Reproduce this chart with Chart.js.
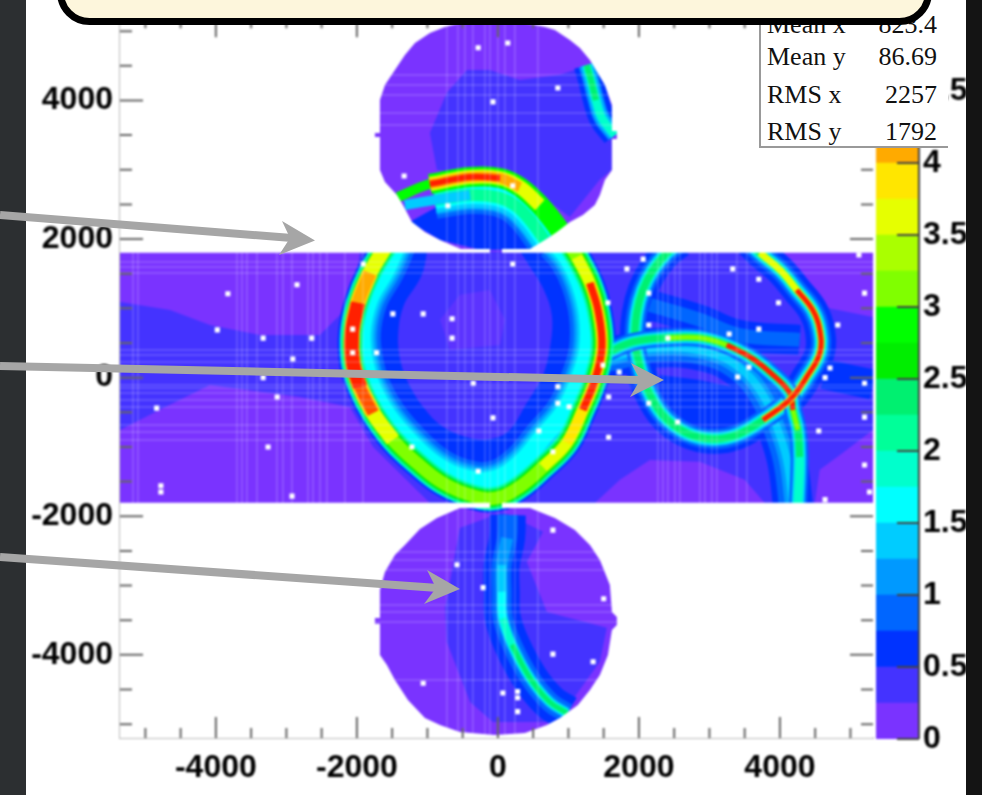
<!DOCTYPE html>
<html><head><meta charset="utf-8">
<script src="https://cdn.jsdelivr.net/npm/chart.js@4/dist/chart.umd.min.js"></script>
<style>
html,body{margin:0;padding:0;background:#fff;width:982px;height:795px;overflow:hidden}
canvas{position:absolute;top:0;filter:blur(.8px)}
#main{left:0}#scale{left:874px}
.strip{position:absolute;top:0;height:795px}
#stats{position:absolute;left:759px;top:-4px;width:187px;height:150px;background:#fff;border-left:2px solid #999;border-bottom:2px solid #999;font:26px "Liberation Serif",serif;color:#111}
#stats div{position:absolute;left:6px;width:170px;line-height:30px;display:flex;justify-content:space-between}
#callout{position:absolute;left:57px;top:-40px;width:861px;height:51px;background:#fdf6dc;border:7px solid #000;border-radius:42px}
svg{position:absolute;left:0;top:0}
</style></head><body>
<canvas id="main" width="982" height="795"></canvas>
<canvas id="scale" width="108" height="795"></canvas>
<div id="stats"></div>
<div id="callout"></div>
<div class="strip" style="left:0;width:26px;background:#2c2f31"></div>
<div class="strip" style="left:966px;width:16px;background:#141414"></div>
<svg width="982" height="795" fill="#a6a6a6" stroke="none">
<g stroke="#a6a6a6" stroke-width="8"><line x1="0" y1="215" x2="292" y2="238"/><line x1="0" y1="366" x2="640" y2="380"/><line x1="0" y1="557" x2="438" y2="588"/></g>
<polygon points="315,240.5 282,221 290,238 279,255"/>
<polygon points="664,380 631,363 640,380 630,397"/>
<polygon points="460,589 427,570 436,588 424,604"/>
</svg>
<script>
// Axis and colour scale
const xRange = [-5360, 5320];
const yRange = [-5200, 5200];
const zRange = [0, 5];
const xTickValues = [-5000,-4500,-4000,-3500,-3000,-2500,-2000,-1500,-1000,-500,0,500,1000,1500,2000,2500,3000,3500,4000,4500,5000];
const yTickValues = [-5000,-4500,-4000,-3500,-3000,-2500,-2000,-1500,-1000,-500,0,500,1000,1500,2000,2500,3000,3500,4000,4500,5000];
const labelledTicks = [-4000,-2000,0,2000,4000];
const zTickValues = [0,0.5,1,1.5,2,2.5,3,3.5,4,4.5,5];
const levelStep = 0.25;
const levelColors = ['#7a33ff','#4433ff','#0033ff','#0066ff','#0099ff','#00ccff','#00ffff','#00ffcc','#00ff99','#00f070','#00ee00','#00ff00','#80ff00','#aaff00','#e6ff00','#ffe600','#ffaa00','#ff8000','#ff5000','#ff2000'];
const statNames = ['Mean x','Mean y','RMS x','RMS y'];
const statValues = ['823.4','86.69','2257','1792'];

// Outline of the populated area: everything in these two shapes is empty
const emptyTop = [[-5360,1804],[-113,1804],[-113,1857],[-525,1857],[-822,1987],[-1035,2102],[-1219,2247],[-1347,2492],[-1432,2636],[-1602,2824],[-1673,2997],[-1673,3473],[-1744,3473],[-1744,3531],[-1673,3531],[-1673,4008],[-1602,4224],[-1461,4440],[-1319,4656],[-1177,4830],[-964,4974],[-752,5061],[-468,5133],[-14,5161],[312,5133],[666,5061],[808,5017],[1021,4873],[1163,4758],[1305,4584],[1517,4224],[1617,3935],[1617,3560],[1687,3560],[1687,3444],[1617,3444],[1617,2997],[1517,2853],[1446,2636],[1375,2492],[1205,2348],[1021,2247],[837,2102],[666,1987],[454,1857],[57,1857],[57,1804],[5320,1804],[5320,5204],[-5360,5204]];
const emptyBottom = [[-5360,-1804],[-113,-1804],[-113,-1880],[-539,-1880],[-865,-2024],[-1106,-2183],[-1319,-2414],[-1461,-2559],[-1602,-2804],[-1673,-3063],[-1673,-3467],[-1744,-3467],[-1744,-3553],[-1673,-3553],[-1673,-4001],[-1574,-4145],[-1461,-4362],[-1276,-4651],[-1035,-4910],[-822,-5011],[-539,-5112],[-43,-5156],[383,-5127],[695,-5011],[879,-4910],[1134,-4723],[1305,-4506],[1446,-4290],[1560,-4001],[1617,-3641],[1687,-3568],[1687,-3453],[1617,-3381],[1588,-2991],[1446,-2631],[1305,-2414],[1092,-2198],[808,-2024],[454,-1880],[57,-1880],[57,-1804],[5320,-1804],[5320,-5200],[-5360,-5200]];
const wholePlot = [[-5360,-5200],[5320,-5200],[5320,5200],[-5360,5200]];

// Low-level (0.25-0.5) regions
const bandLow = [[-5360,1090],[-4650,975],[-4085,760],[-3375,615],[-2525,615],[-2240,905],[-2030,1340],[-1955,1815],[3955,1815],[4610,1020],[5320,875],[5320,-755],[4850,-1115],[4565,-1330],[4495,-1810],[3785,-1810],[3500,-1475],[2865,-1215],[2155,-1190],[1730,-1475],[1375,-1810],[-965,-1810],[-1770,-1000],[-2100,-425],[-2810,-280],[-4085,-105],[-4795,-465],[-5360,-755]];
const topDiskLow = [[-440,4440],[-725,4110],[-965,3530],[-865,2995],[310,2855],[1020,2320],[1445,2855],[1615,2995],[1615,3935],[1305,4510],[880,4370],[310,4295],[-115,4440]];
const bottomDiskLow = [[-540,-2170],[-750,-3325],[-725,-3815],[-395,-4680],[-70,-4970],[835,-4970],[1445,-4100],[1545,-3610],[695,-3380],[410,-2660],[640,-2225],[70,-1940]];
const ringACore = [[-820,835],[-540,1195],[-115,1265],[100,835],[30,470],[-680,400]];
const ringBCore = [[2295,40],[2865,-35],[3855,-250],[3855,-495],[3290,-785],[2725,-685],[2295,-395]];
const topDiskBlue = [[-1250,2245],[-820,1985],[-255,1845],[455,1845],[880,2100],[665,2350],[30,2565],[-820,2490]];

// Ridge lines of the rings and arcs
const ringARidge = [[-1560,1940],[-1815,1510],[-1985,1080],[-2070,645],[-2055,210],[-1955,-135],[-1770,-510],[-1490,-900],[-1150,-1230],[-780,-1520],[-355,-1705],[-15,-1735],[310,-1575],[640,-1290],[980,-940],[1205,-465],[1375,-35],[1475,445],[1420,975],[1305,1365],[1120,1740],[995,1945]];
const ringAMid = [[-1420,1945],[-1590,1555],[-1830,1120],[-1930,645],[-1885,185],[-1770,-180],[-1560,-555],[-1235,-940],[-880,-1260],[-495,-1445],[-70,-1475],[310,-1245],[640,-855],[950,-480],[1150,-35],[1275,400],[1275,905],[1165,1365],[995,1725],[810,1945]];
const ringAInner = [[-1175,1945],[-1250,1555],[-1505,1120],[-1600,615],[-1560,185],[-1430,-175],[-1205,-540],[-895,-855],[-470,-1045],[-70,-1070],[285,-900],[565,-465],[810,-35],[920,400],[950,905],[810,1365],[595,1725],[455,1945]];
const ringBRidge = [[2580,1945],[2395,1800],[2200,1555],[2055,1265],[1970,935],[1945,545],[2015,155],[2125,-175],[2340,-540],[2680,-800],[3050,-885],[3390,-825],[3760,-610],[4140,-320],[4380,10],[4565,355],[4565,690],[4465,975],[4240,1265],[4000,1555],[3715,1800],[3575,1945]];
const arcC = [[1545,355],[1915,515],[2395,575],[2865,575],[3245,470],[3575,300],[3855,80],[4140,-220],[4185,-465],[4255,-755],[4280,-1145],[4255,-1840]];
const arcD = [[1560,285],[2255,430],[2965,370],[3430,140],[3760,-250],[3955,-710],[4100,-1190],[4185,-1840]];
const arcE = [[2155,1050],[2865,835],[3430,615],[4280,545]];
const rightGlow = [[4620,50],[5320,-100]];
const topArcRidge = [[-1420,2605],[-965,2795],[-395,2895],[30,2880],[310,2750],[595,2490],[835,2190],[950,1985]];
const topArcMid = [[-1320,2490],[-895,2565],[-395,2635],[-15,2605],[240,2490],[455,2275],[665,1985]];
const topRightArc = [[1260,4510],[1320,4295],[1390,4005],[1475,3745],[1660,3500]];
const bottomArc = [[140,-1980],[130,-2315],[55,-2705],[55,-3090],[70,-3470],[200,-3855],[455,-4335],[735,-4680],[980,-4840]];

// Thin lighter rows and columns of the histogram
const lightColumns = [-5176,-5105,-3701,-3630,-3559,-3417,-3134,-3049,-2921,-2694,-2623,-2524,-2425,-2170,-1914,-723,-567,-468,-355,-184,-113,0,99,241,567,2269,2340,2411,2510,2581,2864,2935,3035,3105,3389,3531];
const lightRows = [4368,4224,4080,3820,3647,1670,1598,1511,400,328,227,-105,-149,-221,-322,-423,-683,-784,-899,-2515,-2631,-2775,-3280,-3381,-3525,-4362];

// Empty cells inside the populated area
const emptyCells = [[-1910,1640],[210,1640],[1830,1570],[1560,1080],[-1490,920],[-1060,920],[-650,850],[-650,570],[-2060,700],[-2060,360],[-1720,360],[1490,180],[1720,80],[-350,-80],[850,-130],[1570,-280],[850,-370],[1010,-420],[-70,-580],[580,-770],[1570,-860],[780,-1070],[-1220,-1000],[-280,-1350],[2060,1710],[3330,1570],[3700,1420],[3980,1080],[4820,760],[2140,760],[3700,700],[2410,570],[3280,630],[4640,0],[4710,140],[3400,10],[3560,150],[2140,-370],[2550,-640],[4550,-770],[5200,-570],[5200,-80],[5200,1220],[5200,-1260],[5120,1770],[4640,-1760],[5270,-1650],[2140,1220],[-2850,1340],[-3830,1210],[-3980,690],[-3330,570],[-2640,570],[-2910,270],[-3330,0],[-3130,-280],[-4840,-440],[-3260,-1000],[-4780,-1560],[-4780,-1650],[-2920,-1710],[-280,4760],[-70,3980],[-1330,2910],[-710,2480],[140,4830],[850,4180],[210,2770],[780,-2200],[-580,-2700],[-210,-3030],[1500,-3190],[780,-3990],[1350,-4100],[-1060,-4410],[70,-4550],[280,-4530],[280,-4620],[280,-4820]];

const L = levelColors;
const pts = a => a.map(([x,y]) => ({x,y}));
const base = {pointRadius:0,pointHoverRadius:0,borderCapStyle:'butt',borderJoinStyle:'round'};
const area = (a,c) => ({...base,data:pts(a),fill:'shape',backgroundColor:c,borderWidth:0,tension:0});
const line = (a,c,w) => ({...base,data:pts(a),fill:false,borderColor:c,borderWidth:w,tension:.4});
const many = (a,list) => list.map(([i,w]) => line(a,L[i],w));
const gridLines = (vals,vertical) => vals.flatMap(v => vertical
  ? [{x:v,y:yRange[0]},{x:v,y:yRange[1]},{x:v,y:null}]
  : [{x:xRange[0],y:v},{x:xRange[1],y:v},{x:null,y:v}]);

const layers = [
  area(wholePlot,L[0]),
  area(bandLow,L[1]), area(topDiskLow,L[1]), area(bottomDiskLow,L[1]),
  area(ringACore,'#5c33ff'),
  line(ringAInner,L[2],26),
  line(ringARidge,L[2],28),
  line(ringAMid,L[2],44),
  line(ringBRidge,L[2],30),
  area(ringBCore,L[2]),
  line(arcE,L[2],30), line(arcE,L[3],14),
  line(rightGlow,L[2],30),
  ...many(arcD,[[2,40],[3,28],[4,16],[5,8]]),
  line(ringARidge,L[4],24),
  ...many(ringAMid,[[3,38],[4,30],[5,24],[6,18]]),
  area(topDiskBlue,L[2]),
  ...many(topArcMid.slice(1),[[2,52],[3,38],[4,30],[5,26],[6,18],[8,12]]),
  line(topArcMid.slice(0,3),L[5],10),
  ...many(topRightArc,[[2,26],[4,16],[5,11],[7,8]]),
  line(topRightArc.slice(0,3),L[9],6),
  line(bottomArc,L[2],36), line(bottomArc,L[3],20),
  line(bottomArc.slice(1),L[4],12), line(bottomArc.slice(2),L[5],9), line(bottomArc.slice(3),L[6],8),
  line(bottomArc.slice(4),L[7],7), line(bottomArc.slice(5),L[9],5),
  ...many(ringBRidge,[[3,20],[5,14],[7,10],[9,7]]),
  ...many(arcC,[[3,18],[5,13],[7,9]]),
  line(arcC.slice(0,11),L[9],7),
  line(arcC.slice(2,10),L[12],5),
  line(arcC.slice(4,9),L[19],5),
  line(ringBRidge.slice(12,21),L[14],7),
  line(ringBRidge.slice(12,19),L[19],5),
  ...many(ringARidge,[[7,23],[8,21],[9,19],[10,16],[12,13]]),
  line(ringARidge.slice(0,8),L[14],15), line(ringARidge.slice(1,7),L[15],16), line(ringARidge.slice(1,7),L[16],13), line(ringARidge.slice(2,7),L[18],11), line(ringARidge.slice(2,6),L[19],14),
  line(ringARidge.slice(13,21),L[14],11), line(ringARidge.slice(14,20),L[15],10), line(ringARidge.slice(15,20),L[16],9), line(ringARidge.slice(15,20),L[19],7),
  line(topArcRidge.slice(0,3),L[11],10),
  line(topArcRidge.slice(1),L[11],20),
  line(topArcRidge.slice(1,6),L[14],14),
  line(topArcRidge.slice(1,5),L[16],10),
  line(topArcRidge.slice(1,4),L[19],6),
  {...base,data:gridLines(lightColumns,true),fill:false,borderColor:'rgba(255,255,255,.2)',borderWidth:1.5,tension:0,spanGaps:false},
  {...base,data:gridLines(lightRows,false),fill:false,borderColor:'rgba(255,255,255,.2)',borderWidth:1.5,tension:0,spanGaps:false},
  {data:pts(emptyCells),showLine:false,pointStyle:'rect',pointRadius:3.6,pointHoverRadius:3.6,pointBackgroundColor:'#fff',pointBorderWidth:0},
  area(emptyTop,'#fff'), area(emptyBottom,'#fff')
];

const tickFont = {family:'"Liberation Sans",Arial,sans-serif',weight:'bold',size:32};
const isLabelled = v => labelledTicks.includes(v);
const axisTicks = {
  id:'axisTicks',
  afterDatasetsDraw(chart){
    const {ctx,chartArea:a,scales:{x,y}} = chart;
    ctx.save(); ctx.strokeStyle='#666'; ctx.lineWidth=2; ctx.beginPath();
    x.ticks.forEach(t => {
      const p = x.getPixelForValue(t.value), big = isLabelled(t.value);
      ctx.moveTo(p,a.bottom); ctx.lineTo(p,a.bottom-(big?21:10));
      ctx.moveTo(p,a.top); ctx.lineTo(p,a.top+(big?20:11));
    });
    y.ticks.forEach(t => {
      const p = y.getPixelForValue(t.value), big = isLabelled(t.value);
      ctx.moveTo(a.left,p); ctx.lineTo(a.left+(big?23:12),p);
      ctx.moveTo(a.right,p); ctx.lineTo(a.right-(big?23:12),p);
    });
    ctx.stroke(); ctx.restore();
  }
};
new Chart(document.getElementById('main'),{
  type:'line',
  data:{datasets:layers.reverse()},
  plugins:[axisTicks],
  options:{
    responsive:false,animation:false,events:[],
    layout:{padding:{top:17.3,right:109,left:0,bottom:0}},
    plugins:{legend:{display:false},tooltip:{enabled:false}},
    scales:{
      x:{type:'linear',min:xRange[0],max:xRange[1],
        afterBuildTicks(s){s.ticks=xTickValues.map(value=>({value}))},
        afterFit(s){s.height=57;s.paddingLeft=0;s.paddingRight=0},
        grid:{display:false,drawTicks:false},
        border:{display:true,color:'#bbb',width:2},
        ticks:{autoSkip:false,maxRotation:0,padding:11,color:'#000',font:tickFont,
          callback:v=>isLabelled(v)?String(v):''}},
      y:{type:'linear',min:yRange[0],max:yRange[1],
        afterBuildTicks(s){s.ticks=yTickValues.map(value=>({value}))},
        afterFit(s){s.width=120;s.paddingTop=0;s.paddingBottom=0},
        grid:{display:false,drawTicks:false},
        border:{display:true,color:'#bbb',width:2},
        ticks:{autoSkip:false,padding:7,color:'#000',font:tickFont,
          callback:v=>isLabelled(v)?String(v):''}}
    }
  }
});

const scaleTicks = {
  id:'scaleTicks',
  afterDatasetsDraw(chart){
    const {ctx,chartArea:a,scales:{y}} = chart;
    ctx.save(); ctx.strokeStyle='#444'; ctx.lineWidth=2; ctx.beginPath();
    y.ticks.forEach(t => {const p=y.getPixelForValue(t.value);ctx.moveTo(a.right,p);ctx.lineTo(a.right-22,p);});
    ctx.moveTo(a.right,a.top);ctx.lineTo(a.right,a.bottom);
    ctx.stroke(); ctx.restore();
  }
};
new Chart(document.getElementById('scale'),{
  type:'bar',
  data:{labels:['z'],datasets:levelColors.map(c=>({data:[levelStep],backgroundColor:c,barPercentage:1,categoryPercentage:1,borderWidth:0,stack:'z'}))},
  plugins:[scaleTicks],
  options:{
    responsive:false,animation:false,events:[],
    layout:{padding:{top:19,bottom:56,left:2,right:0}},
    plugins:{legend:{display:false},tooltip:{enabled:false}},
    scales:{
      x:{display:false,stacked:true},
      y:{position:'right',stacked:true,min:zRange[0],max:zRange[1],
        afterBuildTicks(s){s.ticks=zTickValues.map(value=>({value}))},
        afterFit(s){s.width=63;s.paddingTop=0;s.paddingBottom=0},
        grid:{display:false,drawTicks:false},border:{display:false},
        ticks:{padding:4,color:'#000',font:tickFont,crossAlign:'near',autoSkip:false,callback:v=>String(v)}}
    }
  }
});

const rowTops = [10,42,80,117];
document.getElementById('stats').innerHTML = statNames.map((n,i)=>`<div style="top:${rowTops[i]+4}px"><span>${n}</span><span>${statValues[i]}</span></div>`).join('');
</script>
</body></html>
